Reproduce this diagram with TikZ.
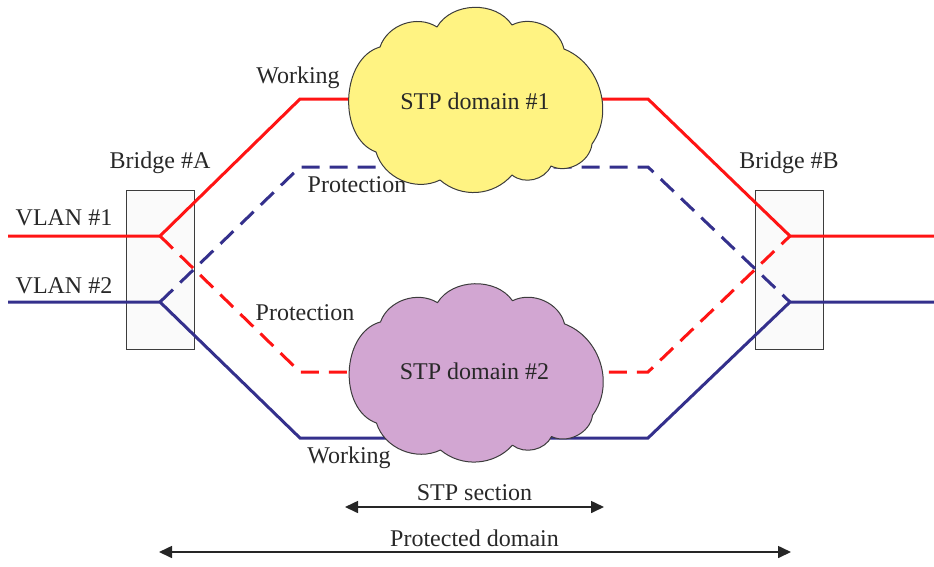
\documentclass[tikz,border=0pt]{standalone}
\usepackage{fontspec}
\setmainfont{Liberation Serif}
\usetikzlibrary{arrows.meta}
\definecolor{wred}{RGB}{255,20,20}
\definecolor{wblue}{RGB}{52,48,140}
\definecolor{cyel}{RGB}{255,243,130}
\definecolor{cpur}{RGB}{210,166,210}
\definecolor{boxgr}{RGB}{60,60,60}
\definecolor{txt}{RGB}{40,40,40}
\tikzset{
  redline/.style={draw=wred,line width=3pt,line join=miter},
  blueline/.style={draw=wblue,line width=3pt,line join=miter},
  dashpat/.style={dash pattern=on 18pt off 10pt},
  bridgebox/.style={draw=boxgr,fill=white!98!black,line width=1pt,minimum width=68pt,minimum height=159pt,inner sep=0pt},
  cloudline/.style={draw=boxgr,line width=1pt,line join=round},
  cloudtext/.style={font=\fontsize{24}{28}\selectfont,text=txt,inner sep=0pt},
  lbl/.style={font=\fontsize{24}{28}\selectfont,text=txt,inner sep=0pt},
  dimarrow/.style={draw=black!85,line width=1.6pt,{Triangle[length=13pt,width=12pt]}-{Triangle[length=13pt,width=12pt]}}
}
\newcommand\cloudoutline{(-37,-72) to[bend left=58] (38,-74) to[bend left=52] (90,-50)
  to[bend left=52] (118,45) to[bend left=55] (77,67) to[bend left=52] (38,76)
  to[bend left=45] (-34,81) to[bend left=50] (-98,53) to[bend left=72] (-94,-52)
  to[bend left=52] cycle}
\begin{document}
\begin{tikzpicture}[x=1pt,y=-1pt]
\useasboundingbox (0,0) rectangle (934,566);
% bridges
\node[bridgebox] (bA) at (160,269.5) {};
\node[bridgebox] (bB) at (789,269.5) {};
\node[lbl] (lbA) at (160,163) {Bridge \#A};
\node[lbl] (lbB) at (789,163) {Bridge \#B};
% coordinates
\coordinate (inA1) at (8,236);
\coordinate (inA2) at (8,302);
\coordinate (jA1) at (160,236);
\coordinate (jA2) at (160,302);
\coordinate (jB1) at (790,236);
\coordinate (jB2) at (790,302);
\coordinate (outB1) at (934,236);
\coordinate (outB2) at (934,302);
\coordinate (wt1) at (300,99);
\coordinate (wt2) at (648,99);
\coordinate (pt1) at (300,167);
\coordinate (pt2) at (648,167);
\coordinate (pb1) at (300,372);
\coordinate (pb2) at (648,372);
\coordinate (wb1) at (300,438);
\coordinate (wb2) at (648,438);
% protection paths (dashed)
\draw[blueline,dashpat] (jA2) -- (pt1) -- (pt2) -- (jB2);
\draw[redline,dashpat] (jA1) -- (pb1) -- (pb2) -- (jB1);
% working paths
\draw[redline] (inA1) -- (jA1) -- (wt1) -- (wt2) -- (jB1) -- (outB1);
\draw[blueline] (inA2) -- (jA2) -- (wb1) -- (wb2) -- (jB2) -- (outB2);
% clouds
\draw[cloudline,fill=cyel,shift={(474,99)}] \cloudoutline;
\node[cloudtext] (c1) at (475,101) {STP domain \#1};
\draw[cloudline,fill=cpur,shift={(474.5,372)},yscale=0.963] \cloudoutline;
\node[cloudtext] (c2) at (474.5,371) {STP domain \#2};
% labels
\node[lbl] (lw1) at (298,78) {Working};
\node[lbl] (lp1) at (357,185) {Protection};
\node[lbl] (lp2) at (305,313) {Protection};
\node[lbl] (lw2) at (349,458) {Working};
\node[lbl] (lv1) at (64,218) {VLAN \#1};
\node[lbl] (lv2) at (64,286) {VLAN \#2};
% dimension arrows
\coordinate (s1) at (345,507);
\coordinate (s2) at (604,507);
\coordinate (d1) at (159,552);
\coordinate (d2) at (791,552);
\draw[dimarrow] (s1) -- (s2);
\draw[dimarrow] (d1) -- (d2);
\node[lbl] (ls) at (474.5,493) {STP section};
\node[lbl] (ld) at (474.5,538) {Protected domain};
\end{tikzpicture}
\end{document}
